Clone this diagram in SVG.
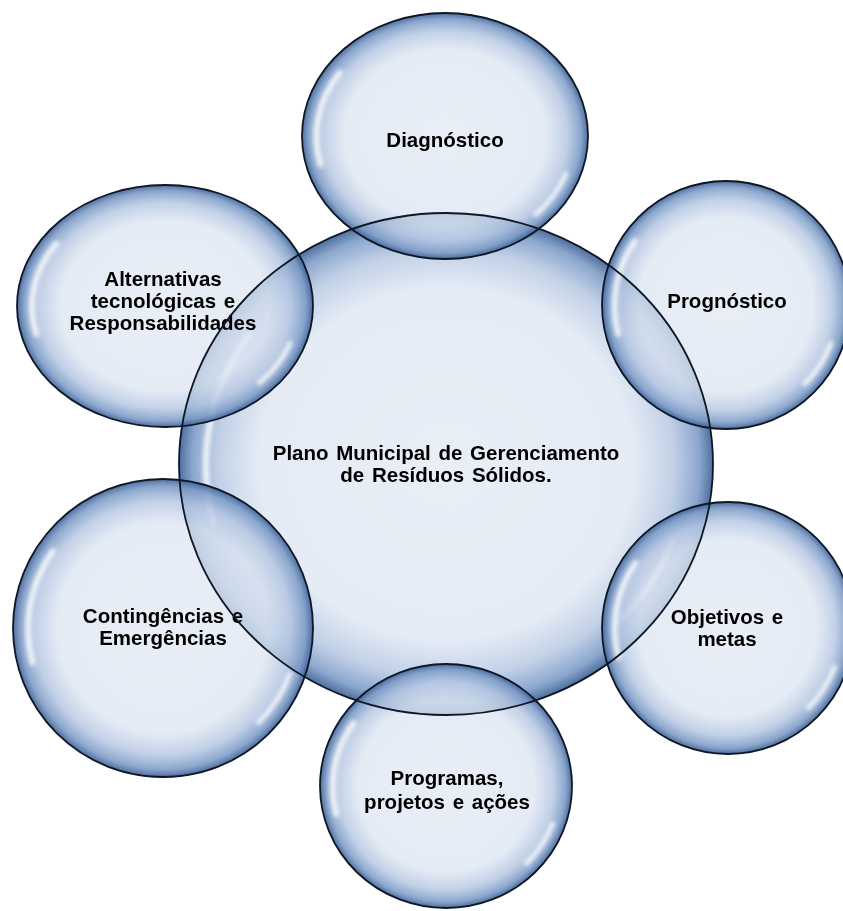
<svg xmlns="http://www.w3.org/2000/svg" xmlns:xlink="http://www.w3.org/1999/xlink" width="843" height="911" viewBox="0 0 843 911">
<style>
.bub{fill:url(#bubble);stroke:none}
.ol ellipse{fill:none;stroke:#0e1725;stroke-width:1.8}
.hl{filter:url(#soft);opacity:0.85}
.lbl{font-family:"Liberation Sans",Arial,sans-serif;font-weight:bold;font-size:20.5px;fill:#000;text-anchor:middle;word-spacing:2px}
</style>
<defs>
<radialGradient id="bubble" cx="50%" cy="50%" r="50%">
<stop offset="0%" stop-color="#e3eaf4" stop-opacity="0.78"/>
<stop offset="70%" stop-color="#dde6f2" stop-opacity="0.78"/>
<stop offset="85%" stop-color="#b5c7e2" stop-opacity="0.82"/>
<stop offset="95%" stop-color="#7b9ac6" stop-opacity="0.88"/>
<stop offset="100%" stop-color="#3f6296" stop-opacity="0.92"/>
</radialGradient>
<filter id="soft" x="-30%" y="-30%" width="160%" height="160%"><feGaussianBlur stdDeviation="2.2"/></filter>
<path id="hlL" d="M -0.735 -0.515 A 0.9 0.9 0 0 0 -0.870 0.233" fill="none" stroke="#ffffff" stroke-width="6" stroke-linecap="round" vector-effect="non-scaling-stroke"/>
<path id="hlR" d="M 0.846 0.308 A 0.9 0.9 0 0 1 0.636 0.636" fill="none" stroke="#ffffff" stroke-width="5" stroke-linecap="round" vector-effect="non-scaling-stroke"/>
</defs>
<rect width="843" height="911" fill="#ffffff"/>
<g id="connectors"></g>
<g id="central" transform="translate(446,464)">
<ellipse class="bub" rx="267" ry="251"/>
<g class="hl"><use xlink:href="#hlL" transform="scale(267,251)"/><use xlink:href="#hlR" transform="scale(267,251)"/></g>
<text class="lbl" y="-4">Plano Municipal de Gerenciamento</text>
<text class="lbl" y="18">de Resíduos Sólidos.</text>
</g>
<g id="diagnostico" transform="translate(445,136)">
<ellipse class="bub" rx="143" ry="123"/>
<g class="hl"><use xlink:href="#hlL" transform="scale(143,123)"/><use xlink:href="#hlR" transform="scale(143,123)"/></g>
<text class="lbl" y="11">Diagnóstico</text>
</g>
<g id="prognostico" transform="translate(726,305)">
<ellipse class="bub" rx="124" ry="124"/>
<g class="hl"><use xlink:href="#hlL" transform="scale(124,124)"/><use xlink:href="#hlR" transform="scale(124,124)"/></g>
<text class="lbl" x="1" y="3">Prognóstico</text>
</g>
<g id="objetivos" transform="translate(728,628)">
<ellipse class="bub" rx="126" ry="126"/>
<g class="hl"><use xlink:href="#hlL" transform="scale(126,126)"/><use xlink:href="#hlR" transform="scale(126,126)"/></g>
<text class="lbl" x="-1" y="-4">Objetivos e</text>
<text class="lbl" x="-1" y="18">metas</text>
</g>
<g id="programas" transform="translate(446,786)">
<ellipse class="bub" rx="126" ry="122"/>
<g class="hl"><use xlink:href="#hlL" transform="scale(126,122)"/><use xlink:href="#hlR" transform="scale(126,122)"/></g>
<text class="lbl" x="1" y="-1">Programas,</text>
<text class="lbl" x="1" y="23">projetos e ações</text>
</g>
<g id="contingencias" transform="translate(163,628)">
<ellipse class="bub" rx="150" ry="149"/>
<g class="hl"><use xlink:href="#hlL" transform="scale(150,149)"/><use xlink:href="#hlR" transform="scale(150,149)"/></g>
<text class="lbl" y="-5">Contingências e</text>
<text class="lbl" y="17">Emergências</text>
</g>
<g id="alternativas" transform="translate(165,306)">
<ellipse class="bub" rx="148" ry="121"/>
<g class="hl"><use xlink:href="#hlL" transform="scale(148,121)"/><use xlink:href="#hlR" transform="scale(148,121)"/></g>
<text class="lbl" x="-2" y="-20">Alternativas</text>
<text class="lbl" x="-2" y="2">tecnológicas e</text>
<text class="lbl" x="-2" y="24">Responsabilidades</text>
</g>
<g id="outlines" class="ol">
<ellipse cx="446" cy="464" rx="267" ry="251"/>
<ellipse cx="445" cy="136" rx="143" ry="123"/>
<ellipse cx="726" cy="305" rx="124" ry="124"/>
<ellipse cx="728" cy="628" rx="126" ry="126"/>
<ellipse cx="446" cy="786" rx="126" ry="122"/>
<ellipse cx="163" cy="628" rx="150" ry="149"/>
<ellipse cx="165" cy="306" rx="148" ry="121"/>
</g>
</svg>
